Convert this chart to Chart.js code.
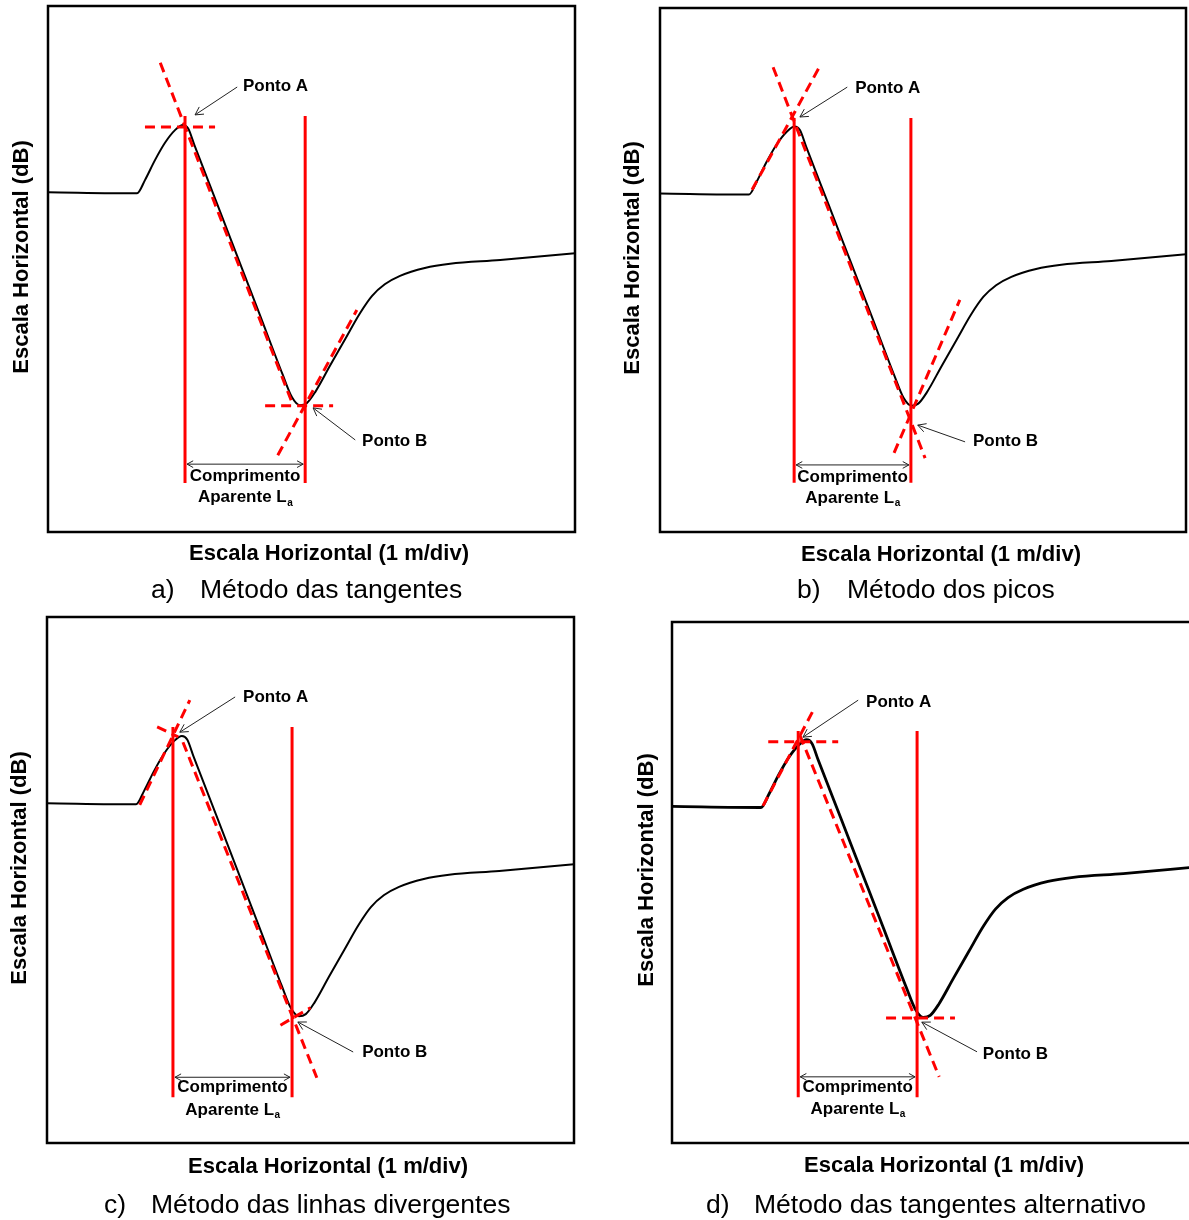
<!DOCTYPE html>
<html lang="pt">
<head>
<meta charset="utf-8">
<title>Métodos de determinação do comprimento aparente</title>
<script src="https://cdn.jsdelivr.net/npm/chart.js@4/dist/chart.umd.min.js"></script>
<style>
  html, body { margin: 0; padding: 0; background: #fff; overflow: hidden; }
  #wrap { position: relative; width: 1189px; height: 1220px; }
  canvas { position: absolute; }
</style>
</head>
<body>
<div id="wrap">
  <canvas id="chartA" width="594" height="612" style="left:0;top:0"></canvas>
  <canvas id="chartB" width="595" height="612" style="left:594px;top:0"></canvas>
  <canvas id="chartC" width="594" height="608" style="left:0;top:612px"></canvas>
  <canvas id="chartD" width="595" height="608" style="left:594px;top:612px"></canvas>
</div>
<script>
// traço (escala normalizada 0-100 nos dois eixos)
const curveX = [0, 16.9, 18.4, 20.3, 22.2, 24.1, 25.6, 26.6, 27.8, 32.0, 36.0, 40.0, 44.5, 46.3, 47.8, 49.1, 50.7, 53.5, 56.4, 59.2, 61.5, 63.9, 66.8, 71.5, 76.3, 85.8, 100];
const curveY = [64.6, 64.4, 66.9, 70.7, 74.0, 76.4, 77.4, 76.7, 73.5, 62.6, 52.2, 41.8, 30.0, 25.6, 24.1, 24.5, 26.6, 31.6, 36.7, 41.6, 44.9, 47.1, 48.7, 50.2, 51.0, 51.7, 53.0];

const pontoLabels = ['Ponto A', 'Ponto B'];
const xTitle = 'Escala Horizontal (1 m/div)';
const yTitle = 'Escala Horizontal (dB)';
const captionLetters = ['a)', 'b)', 'c)', 'd)'];
const captionTexts = ['Método das tangentes', 'Método dos picos', 'Método das linhas divergentes', 'Método das tangentes alternativo'];

// a) tangentes
const vLinesA = [26.0, 48.8];
const tangentsA = [[[18.4, 77.0], [31.7, 77.0]], [[21.3, 89.2], [46.5, 24.1]], [[41.2, 24.0], [54.1, 24.0]], [[43.6, 14.6], [58.6, 42.2]]];
const labelPosA = [[37.0, 84.8], [59.6, 17.3]];
const arrowsA = [[35.9, 84.6, 27.9, 79.3], [58.3, 17.5, 50.3, 23.6]];

// b) picos
const vLinesB = [25.5, 47.7];
const tangentsB = [[[17.5, 65.3], [30.4, 88.9]], [[21.5, 88.7], [50.4, 14.1]], [[44.5, 15.1], [57.0, 44.3]]];
const labelPosB = [[37.1, 84.7], [59.5, 17.4]];
const arrowsB = [[35.6, 84.9, 26.6, 79.2], [58.0, 17.2, 49.0, 20.4]];

// c) linhas divergentes
const vLinesC = [23.9, 46.5];
const tangentsC = [[[17.6, 64.3], [27.1, 84.2]], [[20.9, 79.1], [24.9, 77.2]], [[25.8, 76.2], [51.2, 12.4]], [[44.3, 22.4], [50.0, 25.7]]];
const labelPosC = [[37.2, 84.8], [59.8, 17.3]];
const arrowsC = [[35.7, 84.8, 25.2, 78.1], [58.1, 17.3, 47.6, 23.0]];

// d) tangentes alternativo
const vLinesD = [24.0, 46.6];
const tangentsD = [[[18.3, 77.0], [31.6, 77.0]], [[17.3, 64.7], [27.2, 83.7]], [[24.3, 78.3], [50.8, 12.7]], [[40.7, 24.0], [53.8, 24.0]]];
const labelPosD = [[36.9, 84.6], [59.1, 17.1]];
const arrowsD = [[35.4, 85.0, 24.9, 77.9], [58.0, 17.5, 47.5, 23.2]];

const RED = '#ff0000';
const FONT = 'Arial, "Liberation Sans", sans-serif';

const panels = [
  { id: 'chartA', vLines: vLinesA, vSpan: [9.3, 79.1], tangents: tangentsA, labels: labelPosA, arrows: arrowsA,
    spanY: 12.9, textY: [10.6, 6.5], xMax: 100, curveWidth: 2,
    pad: { left: 48, top: 6, right: 19, bottom: 80 },
    xT: [329, 554], yT: [22, 257], cap: [151, 200, 591] },
  { id: 'chartB', vLines: vLinesB, vSpan: [9.4, 79.0], tangents: tangentsB, labels: labelPosB, arrows: arrowsB,
    spanY: 12.8, textY: [10.5, 6.5], xMax: 100, curveWidth: 2,
    pad: { left: 66, top: 8, right: 3, bottom: 80 },
    xT: [347, 555], yT: [39, 258], cap: [203, 253, 591] },
  { id: 'chartC', vLines: vLinesC, vSpan: [8.7, 79.1], tangents: tangentsC, labels: labelPosC, arrows: arrowsC,
    spanY: 12.5, textY: [10.5, 6.3], xMax: 100, curveWidth: 2,
    pad: { left: 47, top: 5, right: 20, bottom: 77 },
    xT: [328, 555], yT: [20, 256], cap: [104, 151, 594] },
  { id: 'chartD', vLines: vLinesD, vSpan: [8.8, 79.1], tangents: tangentsD, labels: labelPosD, arrows: arrowsD,
    spanY: 12.7, textY: [10.7, 6.5], xMax: 98.3, curveWidth: 2.8,
    pad: { left: 78, top: 10, right: 0, bottom: 77 },
    xT: [350, 554], yT: [53, 258], cap: [112, 160, 594] }
];

function arrowHead(ctx, x1, y1, x2, y2, size) {
  const ang = Math.atan2(y2 - y1, x2 - x1);
  ctx.beginPath();
  ctx.moveTo(x2 - size * Math.cos(ang - 0.5), y2 - size * Math.sin(ang - 0.5));
  ctx.lineTo(x2, y2);
  ctx.lineTo(x2 - size * Math.cos(ang + 0.5), y2 - size * Math.sin(ang + 0.5));
  ctx.stroke();
}

function drawArrow(ctx, x1, y1, x2, y2, size, both) {
  ctx.beginPath();
  ctx.moveTo(x1, y1);
  ctx.lineTo(x2, y2);
  ctx.stroke();
  arrowHead(ctx, x1, y1, x2, y2, size);
  if (both) arrowHead(ctx, x2, y2, x1, y1, size);
}

function makeDecor(p, idx) {
  return {
    id: 'decor' + idx,
    afterDraw(chart) {
      const { ctx, chartArea: a, scales: { x, y } } = chart;
      ctx.save();

      // moldura
      ctx.strokeStyle = '#000';
      ctx.lineWidth = 2.5;
      const right = x.getPixelForValue(100);
      ctx.strokeRect(a.left, a.top, right - a.left, a.bottom - a.top);

      // Ponto A / Ponto B
      ctx.fillStyle = '#000';
      ctx.font = 'bold 17px ' + FONT;
      ctx.textAlign = 'left';
      ctx.textBaseline = 'middle';
      p.labels.forEach(([lx, ly], i) => {
        ctx.fillText(pontoLabels[i], x.getPixelForValue(lx), y.getPixelForValue(ly));
      });
      ctx.strokeStyle = '#222';
      ctx.lineWidth = 1;
      p.arrows.forEach(([x1, y1, x2, y2]) => {
        drawArrow(ctx, x.getPixelForValue(x1), y.getPixelForValue(y1), x.getPixelForValue(x2), y.getPixelForValue(y2), 9, false);
      });

      // comprimento aparente
      const xa = x.getPixelForValue(p.vLines[0]) + 2;
      const xb = x.getPixelForValue(p.vLines[1]) - 2;
      const ys = y.getPixelForValue(p.spanY);
      drawArrow(ctx, xa, ys, xb, ys, 7, true);
      const mid = (xa + xb) / 2;
      ctx.textAlign = 'center';
      ctx.fillText('Comprimento', mid, y.getPixelForValue(p.textY[0]));
      const main = 'Aparente L';
      ctx.font = 'bold 17px ' + FONT;
      const w1 = ctx.measureText(main).width;
      ctx.font = 'bold 10px ' + FONT;
      const w2 = ctx.measureText('a').width;
      const left = mid - (w1 + w2) / 2;
      const ty = y.getPixelForValue(p.textY[1]);
      ctx.textAlign = 'left';
      ctx.font = 'bold 17px ' + FONT;
      ctx.fillText(main, left, ty);
      ctx.font = 'bold 10px ' + FONT;
      ctx.fillText('a', left + w1 + 0.5, ty + 5);

      // títulos dos eixos
      ctx.font = 'bold 22px ' + FONT;
      ctx.textAlign = 'center';
      ctx.fillText(xTitle, p.xT[0], p.xT[1]);
      ctx.save();
      ctx.translate(p.yT[0], p.yT[1]);
      ctx.rotate(-Math.PI / 2);
      ctx.font = 'bold 22px ' + FONT;
      ctx.fillText(yTitle, 0, 0);
      ctx.restore();

      // legenda
      ctx.font = '26.5px ' + FONT;
      ctx.textAlign = 'left';
      ctx.fillText(captionLetters[idx], p.cap[0], p.cap[2]);
      ctx.fillText(captionTexts[idx], p.cap[1], p.cap[2]);

      ctx.restore();
    }
  };
}

function buildDatasets(p) {
  const ds = [{
    data: curveX.map((cx, i) => ({ x: cx, y: curveY[i] })),
    borderColor: '#000',
    borderWidth: p.curveWidth,
    cubicInterpolationMode: 'monotone',
    order: 3
  }];
  p.vLines.forEach(vx => {
    ds.push({
      data: [{ x: vx, y: p.vSpan[0] }, { x: vx, y: p.vSpan[1] }],
      borderColor: RED,
      borderWidth: 3,
      order: 2
    });
  });
  p.tangents.forEach(t => {
    ds.push({
      data: t.map(([tx, ty]) => ({ x: tx, y: ty })),
      borderColor: RED,
      borderWidth: 3,
      borderDash: [10, 6],
      order: 1
    });
  });
  return ds;
}

panels.forEach((p, idx) => {
  new Chart(document.getElementById(p.id), {
    type: 'line',
    data: { datasets: buildDatasets(p) },
    options: {
      responsive: false,
      animation: false,
      layout: { padding: p.pad },
      elements: { point: { radius: 0 }, line: { borderCapStyle: 'butt' } },
      plugins: { legend: { display: false }, tooltip: { enabled: false } },
      scales: {
        x: { type: 'linear', min: 0, max: p.xMax, display: false },
        y: { type: 'linear', min: 0, max: 100, display: false }
      }
    },
    plugins: [makeDecor(p, idx)]
  });
});
</script>
</body>
</html>
